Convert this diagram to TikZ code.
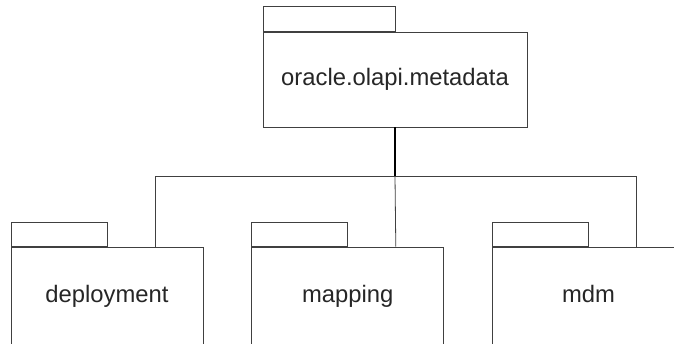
\documentclass[tikz,border=0pt]{standalone}
\usepackage{fontspec}
\setmainfont{Liberation Sans}
\usepackage{tikz}
\usetikzlibrary{positioning}
\tikzstyle{pkg} = [rectangle, draw=black!75, line width=0.8pt, fill=white,
    minimum width=192pt, minimum height=98pt, inner sep=0pt,
    text height=17pt, text depth=5pt,
    font=\fontsize{23.8}{28}\selectfont, text=black!85]
\tikzstyle{tab} = [rectangle, draw=black!75, line width=0.8pt,
    minimum width=96pt, minimum height=24pt, inner sep=0pt, anchor=south west]
\tikzstyle{line} = [draw=black!75, line width=0.8pt]

\begin{document}
\begin{tikzpicture}[x=1pt, y=1pt]
    \clip (0,0) rectangle (674,343);
    \fill [white] (0,0) rectangle (674,343);
    % Place nodes
    \node [pkg, minimum width=264pt, minimum height=95pt] (meta) at (395,263.5) {oracle.olapi.metadata};
    \node [tab, minimum width=132pt, minimum height=25pt] (metatab) at (meta.north west) {};
    \node [pkg] (dep) at (107,47) {deployment};
    \node [pkg, right=48pt of dep] (map) {mapping};
    \node [pkg, right=48pt of map] (mdm) {mdm};
    \node [tab] (deptab) at (dep.north west) {};
    \node [tab] (maptab) at (map.north west) {};
    \node [tab] (mdmtab) at (mdm.north west) {};
    \coordinate (bus) at ([yshift=-49pt]meta.south);
    % Draw edges
    \path [line] ([xshift=48pt]dep.north) |- (bus) -| ([xshift=48pt]mdm.north);
    \path [line] (bus) -- ([xshift=48pt]map.north);
    \path [line, draw=black, line width=1.3pt] (meta.south) -- (bus);
\end{tikzpicture}
\end{document}
